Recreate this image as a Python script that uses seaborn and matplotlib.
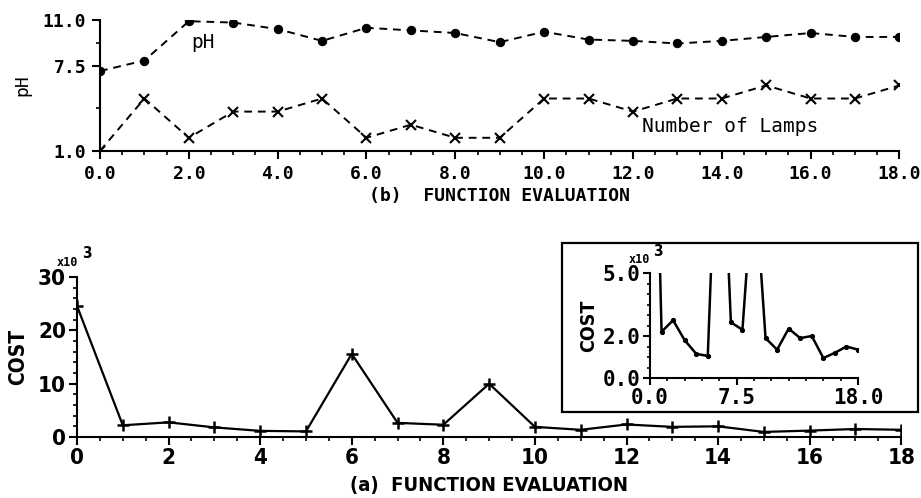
import matplotlib
matplotlib.use("Agg")
import matplotlib.pyplot as plt
import seaborn as sns
import pandas as pd
from matplotlib.ticker import MultipleLocator, FixedLocator
from matplotlib.patches import Rectangle

# ---------------- data ----------------
evals = list(range(19))
ph = [7.1, 7.9, 10.9, 10.8, 10.3, 9.4, 10.4, 10.2, 10.0, 9.3, 10.1, 9.5, 9.4, 9.2, 9.4, 9.7, 10.0, 9.7, 9.7]
lamps = [1, 5, 2, 4, 4, 5, 2, 3, 2, 2, 5, 5, 4, 5, 5, 6, 5, 5, 6]
cost = [24600, 2200, 2750, 1800, 1150, 1050, 15600, 2650, 2300, 10000,
        1900, 1350, 2350, 1900, 2000, 950, 1200, 1500, 1350]

top_xticks = [0, 2, 4, 6, 8, 10, 12, 14, 16, 18]
top_xlabels = ["0.0", "2.0", "4.0", "6.0", "8.0", "10.0", "12.0", "14.0", "16.0", "18.0"]
top_yticks = [1.0, 7.5, 11.0]
top_ylabels = ["1.0", "7.5", "11.0"]
bot_xticks = [0, 2, 4, 6, 8, 10, 12, 14, 16, 18]
bot_xlabels = ["0", "2", "4", "6", "8", "10", "12", "14", "16", "18"]
bot_yticks = [0, 10000, 20000, 30000]
bot_ylabels = ["0", "10", "20", "30"]
ins_xticks = [0, 7.5, 18]
ins_xlabels = ["0.0", "7.5", "18.0"]
ins_yticks = [0, 2000, 5000]
ins_ylabels = ["0.0", "2.0", "5.0"]

df = pd.DataFrame({"eval": evals, "ph": ph, "lamps": lamps, "cost": cost})

sns.set_style("ticks")
plt.rcParams.update({"text.color": "black", "axes.labelcolor": "black",
                     "xtick.color": "black", "ytick.color": "black",
                     "axes.edgecolor": "black"})
MONO = ["DejaVu Sans Mono"]
NARROW = ["DejaVu Sans"]
NSTR = "condensed"

fig = plt.figure(figsize=(9.21, 4.98), dpi=100)

# ---------------- top panel (b) ----------------
ax1 = fig.add_axes([0.1086, 0.697, 0.868, 0.263])
sns.lineplot(data=df, x="eval", y="ph", ax=ax1, color="black",
             linewidth=1.4, marker="o", markersize=6, markeredgecolor="black")
ax1.lines[-1].set_linestyle((0, (4, 3)))
sns.lineplot(data=df, x="eval", y="lamps", ax=ax1, color="black",
             linewidth=1.4, marker="x", markersize=7, markeredgewidth=1.5,
             markeredgecolor="black")
ax1.lines[-1].set_linestyle((0, (4, 3)))
ax1.set_xlim(0, 18)
ax1.set_ylim(1, 11)
ax1.set_xticks(top_xticks)
ax1.set_xticklabels(top_xlabels, family=MONO, fontsize=13, fontweight="bold")
ax1.set_yticks(top_yticks)
ax1.set_yticklabels(top_ylabels, family=MONO, fontsize=13, fontweight="bold")
ax1.xaxis.set_minor_locator(MultipleLocator(0.5))
ax1.yaxis.set_minor_locator(FixedLocator([4.25, 9.25]))
ax1.tick_params(which="major", length=6, width=1.5, direction="out", pad=4)
ax1.tick_params(which="minor", length=3, width=1.2, direction="out")
ax1.set_xlabel("(b)  FUNCTION EVALUATION", family=MONO, fontsize=13,
               fontweight="bold", labelpad=3)
ax1.set_ylabel("pH", family=MONO, fontsize=13, labelpad=8)
ax1.text(2.05, 9.3, "pH", family=MONO, fontsize=14, va="center")
ax1.text(12.2, 2.9, "Number of Lamps", family=MONO, fontsize=14, va="center")
for s in ["left", "bottom"]:
    ax1.spines[s].set_linewidth(1.5)
sns.despine(ax=ax1)

# ---------------- bottom panel (a) ----------------
ax2 = fig.add_axes([0.0836, 0.1225, 0.895, 0.321])
sns.lineplot(data=df, x="eval", y="cost", ax=ax2, color="black", linewidth=1.6,
             marker="+", markersize=8, markeredgewidth=1.8, markeredgecolor="black")
ax2.set_xlim(0, 18)
ax2.set_ylim(0, 30000)
ax2.set_xticks(bot_xticks)
ax2.set_xticklabels(bot_xlabels, family=NARROW, fontstretch=NSTR, fontsize=16,
                    fontweight="bold")
ax2.set_yticks(bot_yticks)
ax2.set_yticklabels(bot_ylabels, family=NARROW, fontstretch=NSTR, fontsize=16,
                    fontweight="bold")
ax2.xaxis.set_minor_locator(MultipleLocator(0.5))
ax2.yaxis.set_minor_locator(MultipleLocator(2000))
ax2.tick_params(which="major", length=6, width=1.5, direction="out", pad=2)
ax2.tick_params(which="minor", length=3, width=1.2, direction="out")
ax2.set_xlabel("(a)  FUNCTION EVALUATION", family=NARROW, fontstretch=NSTR,
               fontsize=14.5, fontweight="bold", labelpad=6)
ax2.set_ylabel("COST", family=NARROW, fontstretch=NSTR, fontsize=15,
               fontweight="bold", labelpad=7)
for s in ["left", "bottom"]:
    ax2.spines[s].set_linewidth(1.5)
sns.despine(ax=ax2)
fig.text(57 / 921, 1 - 262 / 498, "x10", family=MONO, fontsize=8.5,
         fontweight="bold", va="center")
fig.text(82 / 921, 1 - 254 / 498, "3", family=NARROW, fontstretch=NSTR,
         fontsize=11, fontweight="bold", va="center")

# ---------------- inset ----------------
fig.patches.append(Rectangle((562 / 921, 1 - 412 / 498), 356 / 921, 169 / 498,
                             transform=fig.transFigure, fill=False,
                             edgecolor="black", linewidth=1.6, zorder=5))
ax3 = fig.add_axes([650 / 921, 1 - 378 / 498, 208 / 921, 105 / 498])
ax3.patch.set_alpha(0)
sns.lineplot(data=df, x="eval", y="cost", ax=ax3, color="black", linewidth=1.8,
             marker="o", markersize=3, markeredgecolor="black")
ax3.set_xlim(0, 18)
ax3.set_ylim(0, 5000)
ax3.set_xticks(ins_xticks)
ax3.set_xticklabels(ins_xlabels, family=MONO, fontsize=15, fontweight="bold")
ax3.set_yticks(ins_yticks)
ax3.set_yticklabels(ins_ylabels, family=MONO, fontsize=15, fontweight="bold")
ax3.xaxis.set_minor_locator(MultipleLocator(1.5))
ax3.yaxis.set_minor_locator(MultipleLocator(500))
ax3.tick_params(which="major", length=5, width=1.5, direction="out", pad=2)
ax3.tick_params(which="minor", length=2.5, width=1.2, direction="out")
ax3.set_xlabel("")
ax3.set_ylabel("COST", family=NARROW, fontstretch=NSTR, fontsize=14,
               fontweight="bold", labelpad=3)
for s in ["left", "bottom"]:
    ax3.spines[s].set_linewidth(1.5)
sns.despine(ax=ax3)
fig.text(629 / 921, 1 - 259 / 498, "x10", family=MONO, fontsize=8.5,
         fontweight="bold", va="center")
fig.text(653 / 921, 1 - 252 / 498, "3", family=NARROW, fontstretch=NSTR,
         fontsize=11, fontweight="bold", va="center")

fig.savefig("out.png", dpi=100)
